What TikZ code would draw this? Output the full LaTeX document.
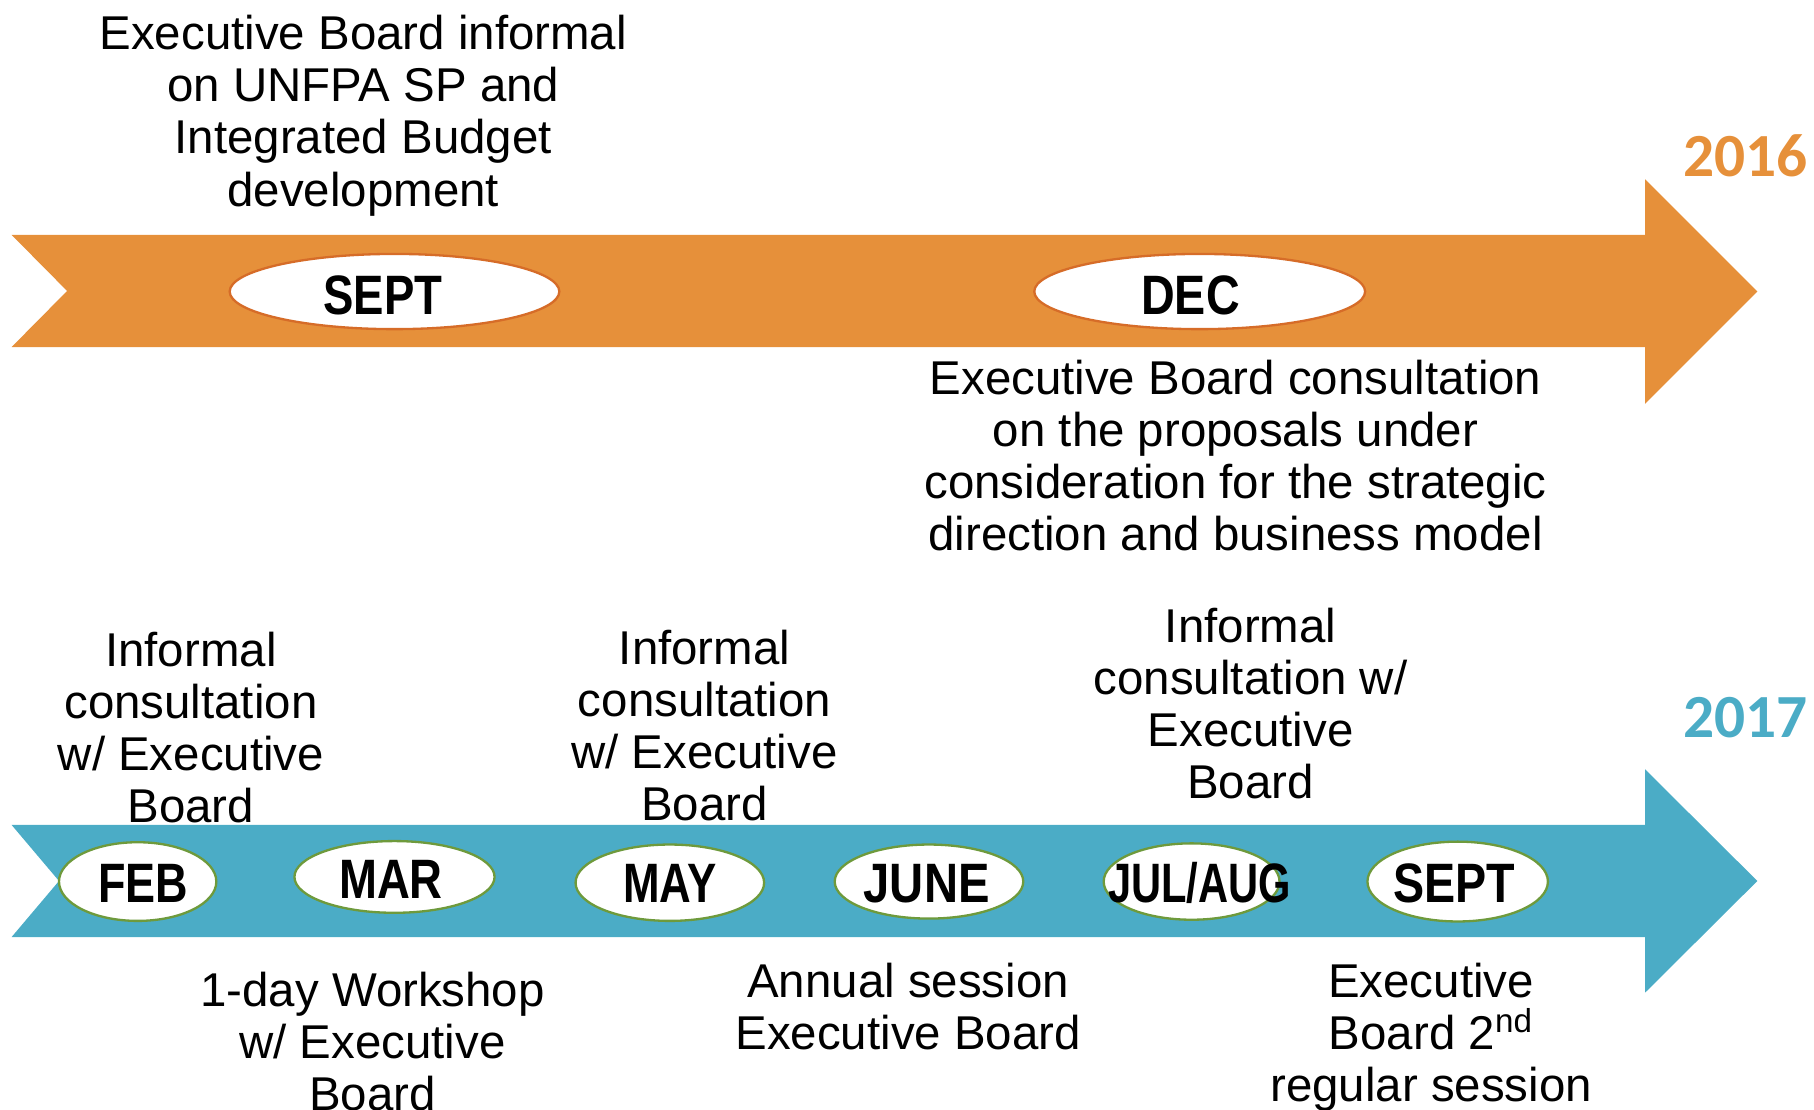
\documentclass[tikz,border=0pt]{standalone}
\usepackage{fontspec}
\usepackage{graphicx}
\setmainfont{Liberation Sans}
\newfontfamily\yearfont{Carlito}
\usetikzlibrary{shapes.geometric}
\definecolor{orangeband}{RGB}{230,144,58}
\definecolor{orangeedge}{RGB}{214,108,40}
\definecolor{tealband}{RGB}{75,172,198}
\definecolor{greenedge}{RGB}{110,154,60}
\tikzset{
  body/.style={inner sep=0pt, align=center, anchor=north, font=\fontsize{20.5}{22.5}\selectfont},
  ovalO/.style={ellipse, draw=orangeedge, fill=white, line width=1pt, inner sep=0pt},
  ovalT/.style={ellipse, draw=greenedge, fill=white, line width=1pt, inner sep=0pt},
  month/.style={inner sep=0pt, anchor=base, font=\fontsize{24}{28}\selectfont\bfseries},
  year/.style={inner sep=0pt, font=\fontsize{26.5}{30}\selectfont\yearfont\bfseries}
}
\newcommand{\mstr}[2]{\scalebox{#1}[1]{#2}}
\begin{document}
\begin{tikzpicture}[x=0.5pt,y=-0.5pt]
\useasboundingbox (0,0) rectangle (1568,959);
% 2016 band
\fill[orangeband] (10,203) -- (1422,203) -- (1422,155) -- (1519,252) -- (1422,349) -- (1422,300) -- (10,300) -- (58,251.5) -- cycle;
% 2017 band
\fill[tealband] (10,713) -- (1422,713) -- (1422,665) -- (1519,761.5) -- (1422,858) -- (1422,810) -- (10,810) -- (51,761.5) -- cycle;

\node[year, text=orangeband] (y16) at (1509,135) {2016};
\node[year, text=tealband] (y17) at (1509,620) {2017};

% 2016 ovals
\node[ovalO, minimum width=142.5pt, minimum height=32.5pt] (o1) at (341,252) {};
\node[ovalO, minimum width=143pt, minimum height=32.5pt] (o2) at (1037,252) {};
\node[month] (t1) at (331,272) {\mstr{0.82}{SEPT}};
\node[month] (t2) at (1029,272) {\mstr{0.84}{DEC}};

% 2017 ovals
\node[ovalT, minimum width=68pt, minimum height=34pt] (b1) at (119,762) {};
\node[ovalT, minimum width=86.5pt, minimum height=31pt] (b2) at (341,758) {};
\node[ovalT, minimum width=81.5pt, minimum height=33pt] (b3) at (579,763) {};
\node[ovalT, minimum width=81.5pt, minimum height=32pt] (b4) at (803,762) {};
\node[ovalT, minimum width=76pt, minimum height=33pt] (b5) at (1030,762) {};
\node[ovalT, minimum width=78pt, minimum height=34.5pt] (b6) at (1260,762) {};
\node[month] (m1) at (124,780) {\mstr{0.81}{FEB}};
\node[month] (m2) at (338,777) {\mstr{0.82}{MAR}};
\node[month] (m3) at (579,780) {\mstr{0.79}{MAY}};
\node[month] (m4) at (801,780) {\mstr{0.85}{JUNE}};
\node[month] (m5) at (1037,780) {\mstr{0.75}{JUL/AUG}};
\node[month] (m6) at (1257,780) {\mstr{0.84}{SEPT}};

% texts
\node[body] (d1) at (314,13) {Executive Board informal\\on UNFPA SP and\\Integrated Budget\\development};
\node[body] (d2) at (1068,311) {Executive Board consultation\\on the proposals under\\consideration for the strategic\\direction and business model};
\node[body] (d3) at (165,546) {Informal\\consultation\\w/ Executive\\Board};
\node[body] (d4) at (609,544) {Informal\\consultation\\w/ Executive\\Board};
\node[body] (d5) at (1081,525) {Informal\\consultation w/\\Executive\\Board};
\node[body] (d6) at (322,840) {1-day Workshop\\w/ Executive\\Board};
\node[body] (d7) at (785,832) {Annual session\\Executive Board};
\node[body] (d8) at (1237,832) {Executive\\Board 2\textsuperscript{nd}\\regular session};
\end{tikzpicture}
\end{document}
